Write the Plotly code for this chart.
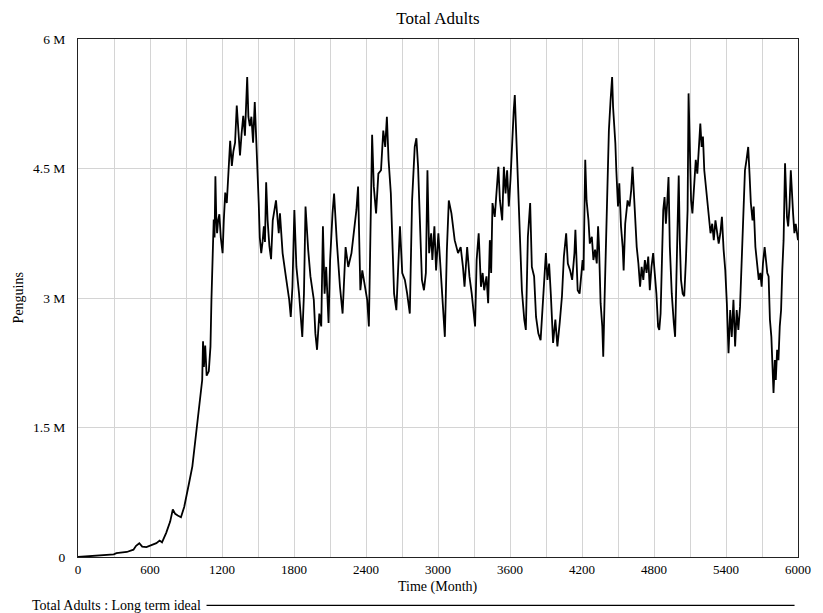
import plotly.graph_objects as go

# Time in months
time_months = [
    0, 100, 200, 298, 320, 407, 462, 484, 511, 535, 570, 600, 630, 653, 680, 700, 735, 768, 790, 810,
    831, 858, 885, 905, 926, 953, 981, 1008, 1035, 1042, 1049, 1060, 1072, 1090, 1104, 1112, 1123, 1131, 1138, 1145,
    1152, 1159, 1168, 1178, 1190, 1205, 1215, 1227, 1240, 1254, 1268, 1282, 1295, 1309, 1323, 1336, 1350, 1363, 1377, 1391,
    1400, 1410, 1420, 1432, 1445, 1459, 1473, 1486, 1495, 1500, 1506, 1515, 1527, 1538, 1549, 1558, 1568, 1580, 1595, 1609,
    1623, 1650, 1673, 1683, 1705, 1732, 1760, 1773, 1787, 1803, 1820, 1842, 1869, 1883, 1896, 1918, 1937, 1965, 1978, 1992,
    2011, 2027, 2041, 2055, 2068, 2088, 2101, 2121, 2134, 2156, 2183, 2205, 2230, 2252, 2279, 2301, 2320, 2334, 2353, 2369,
    2388, 2410, 2424, 2437, 2451, 2465, 2484, 2503,
    2525, 2544, 2560, 2574, 2588, 2607, 2620, 2634, 2653, 2670, 2683, 2702, 2724, 2743, 2765, 2784, 2806, 2820, 2834, 2847,
    2866, 2883, 2899, 2912, 2926, 2943, 2953, 2970, 2984, 3003, 3025, 3044, 3057, 3074, 3090, 3112, 3139, 3167, 3189, 3208,
    3221, 3243, 3262, 3281, 3298, 3309, 3322, 3339, 3358,
    3372, 3385, 3404, 3418, 3432, 3443, 3454, 3473, 3487, 3503, 3516, 3535, 3549, 3563, 3576, 3590, 3604, 3617, 3631, 3640,
    3650, 3667, 3680, 3699, 3719, 3732, 3749, 3768, 3782, 3801, 3817, 3836, 3855, 3872, 3885, 3899, 3912, 3926, 3940, 3959,
    3978, 3995, 4014, 4033, 4049, 4068, 4082, 4101, 4118, 4137, 4145, 4164, 4180, 4205,
    4213, 4227, 4238, 4254, 4265, 4282, 4295, 4309, 4323, 4334, 4342, 4355, 4369, 4377, 4388, 4396, 4405, 4416, 4424, 4438,
    4451, 4459, 4470, 4478, 4486, 4500, 4511, 4525, 4539, 4547, 4560, 4580, 4596, 4610, 4621, 4632, 4643, 4656, 4670, 4684,
    4697, 4711, 4724, 4738, 4752, 4765, 4779, 4793, 4806, 4820, 4834, 4844, 4855, 4867, 4877, 4888, 4899, 4910, 4921, 4932,
    4948, 4965, 4976, 4987, 4998, 5006, 5015, 5025, 5039, 5052, 5066, 5080, 5088,
    5098, 5109, 5120, 5134, 5148, 5161, 5175, 5186, 5197, 5208, 5219, 5230, 5244, 5257, 5271, 5285, 5298, 5312, 5325, 5339,
    5353, 5366, 5380, 5394, 5407, 5421, 5435, 5448, 5462, 5476, 5489, 5503, 5517, 5530, 5544, 5558, 5571, 5585, 5596, 5607,
    5621, 5631, 5645, 5659, 5673, 5686, 5697, 5708, 5722, 5733, 5744, 5755, 5766, 5778, 5788, 5796, 5807, 5815, 5826, 5837,
    5848, 5859, 5869, 5880, 5892, 5900, 5908, 5918, 5929, 5940, 5948, 5959, 5970, 5981, 6000,
]

# Total adults, in millions of penguins
adults_millions = [
    0.0, 0.008, 0.018, 0.03, 0.045, 0.058, 0.085, 0.13, 0.16, 0.12, 0.115, 0.13, 0.15, 0.16, 0.19, 0.17, 0.28, 0.41, 0.55, 0.50,
    0.48, 0.46, 0.58, 0.70, 0.86, 1.05, 1.40, 1.71, 2.05, 2.50, 2.20, 2.45, 2.10, 2.15, 2.44, 2.98, 3.68, 3.91, 3.70, 4.41,
    3.95, 3.75, 3.90, 3.97, 3.70, 3.52, 3.90, 4.22, 4.10, 4.45, 4.82, 4.53, 4.70, 4.80, 5.23, 4.95, 4.65, 4.90, 5.11, 4.88,
    5.20, 5.56, 5.10, 4.99, 5.10, 4.80, 5.27, 4.84, 4.61, 4.30, 4.10, 3.70, 3.52, 3.65, 3.83, 3.65, 4.34, 3.90, 3.60, 3.45,
    3.90, 4.13, 3.75, 3.98, 3.52, 3.25, 2.98, 2.78, 3.13, 4.02, 3.36, 3.05, 2.55, 3.05, 4.06, 3.56, 3.25, 2.98, 2.59, 2.40,
    2.82, 2.67, 3.83, 3.05, 3.36, 2.71, 3.44, 3.98, 4.21, 3.67, 3.13, 2.82, 3.59, 3.36, 3.52, 3.79, 4.02, 4.29, 3.09, 3.32,
    3.17, 2.98, 2.67, 3.79, 4.89, 4.29, 3.98, 4.44,
    4.48, 4.94, 4.75, 5.10, 4.60, 4.21, 3.63, 3.05, 2.86, 3.36, 3.83, 3.29, 3.21, 3.05, 2.82, 4.13, 4.75, 4.85, 4.52, 3.98,
    3.21, 3.09, 3.29, 4.48, 3.52, 3.75, 3.44, 3.83, 3.32, 3.75, 3.25, 2.90, 2.55, 3.56, 4.13, 3.98, 3.67, 3.52, 3.59, 3.36,
    3.13, 3.59, 3.25, 3.05, 2.82, 2.67, 3.44, 3.75, 3.13,
    3.29, 3.09, 3.25, 2.94, 3.67, 3.29, 4.10, 3.94, 4.25, 4.52, 4.13, 3.90, 4.52, 4.21, 4.48, 4.06, 4.37, 4.83, 5.17, 5.35,
    4.98, 4.37, 3.83, 3.09, 2.75, 2.63, 3.71, 4.10, 3.36, 3.25, 2.78, 2.59, 2.51, 2.90, 3.09, 3.52, 3.21, 3.40, 3.05, 2.48,
    2.75, 2.44, 2.71, 3.02, 3.48, 3.75, 3.40, 3.32, 3.21, 3.52, 3.79, 3.09, 3.05, 3.44,
    3.32, 4.60, 4.13, 3.90, 3.63, 3.71, 3.44, 3.56, 3.40, 3.83, 3.59, 2.94, 2.67, 2.32, 2.98, 3.44, 4.06, 4.75, 4.94, 5.29,
    5.56, 5.21, 4.98, 4.79, 4.48, 4.06, 4.33, 3.83, 3.59, 3.32, 3.86, 4.13, 4.06, 4.25, 4.52, 4.17, 3.90, 3.59, 3.40, 3.13,
    3.36, 3.21, 3.44, 3.29, 3.48, 3.09, 3.36, 3.52, 3.29, 3.05, 2.67, 2.63, 2.82, 3.52, 4.02, 4.17, 3.86, 4.10, 4.40, 3.59,
    3.05, 2.71, 2.55, 3.25, 3.90, 4.42, 3.67, 3.21, 3.05, 3.02, 3.44, 4.02, 5.37,
    4.67, 4.13, 3.98, 4.29, 4.60, 4.44, 4.71, 5.02, 4.75, 4.87, 4.48, 4.33, 4.13, 3.98, 3.75, 3.86, 3.67, 3.90, 3.75, 3.63,
    3.75, 3.94, 3.56, 3.32, 2.94, 2.36, 2.86, 2.55, 2.98, 2.44, 2.86, 2.63, 2.90, 3.44, 3.90, 4.48, 4.60, 4.75, 4.44, 4.10,
    3.90, 4.06, 3.59, 3.40, 3.21, 3.29, 3.13, 3.40, 3.59, 3.44, 3.29, 3.25, 2.75, 2.55, 2.09, 1.90, 2.28, 2.05, 2.40, 2.28,
    2.67, 2.86, 3.32, 3.67, 4.56, 4.29, 3.94, 3.83, 4.06, 4.48, 4.21, 3.98, 3.75, 3.86, 3.67,
]

y_tick_vals = [0, 1.5, 3, 4.5, 6]
y_tick_text = ["0", "1.5 M", "3 M", "4.5 M", "6 M"]
x_tick_vals = [0, 600, 1200, 1800, 2400, 3000, 3600, 4200, 4800, 5400, 6000]

series_name = "Total Adults : Long term ideal"

FONT = "Liberation Serif, Times New Roman, serif"
GRID = "#d4d4d4"

fig = go.Figure()
fig.add_trace(go.Scatter(
    x=time_months, y=adults_millions, mode="lines", name=series_name,
    line=dict(color="black", width=1.8), showlegend=False,
))

fig.update_layout(
    width=823, height=613,
    margin=dict(l=77.5, r=14.5, t=38.5, b=55.5),
    paper_bgcolor="white", plot_bgcolor="white",
    font=dict(family=FONT, size=13.5, color="black"),
    title=dict(text="Total Adults", x=0.5, xref="paper", xanchor="center",
               y=1 - 18 / 613, yanchor="middle", font=dict(family=FONT, size=17, color="black")),
    xaxis=dict(
        range=[0, 6000], tickvals=x_tick_vals, ticks="", showgrid=True, gridcolor=GRID, gridwidth=1,
        minor=dict(dtick=300, tick0=0, showgrid=True, gridcolor=GRID, gridwidth=1),
        showline=True, linecolor="#222", linewidth=1, mirror=True, zeroline=False,
        tickfont=dict(family=FONT, size=13), ticklabelstandoff=0,
    ),
    yaxis=dict(
        range=[0, 6], tickvals=y_tick_vals, ticktext=y_tick_text, ticks="", showgrid=True,
        gridcolor=GRID, gridwidth=1, showline=True, linecolor="#222", linewidth=1, mirror=True,
        zeroline=False, tickfont=dict(family=FONT, size=13.5), ticklabelstandoff=9,
    ),
    annotations=[
        dict(text="Penguins", xref="paper", yref="paper", x=-0.0828, y=0.5, textangle=-90,
             showarrow=False, xanchor="center", yanchor="middle", font=dict(family=FONT, size=14)),
        dict(text="Time (Month)", xref="paper", yref="paper", x=0.5, y=-0.057,
             showarrow=False, xanchor="center", yanchor="middle", font=dict(family=FONT, size=14)),
        dict(text=series_name, xref="paper", yref="paper", x=-0.0663, y=-0.0934,
             showarrow=False, xanchor="left", yanchor="middle", font=dict(family=FONT, size=14)),
    ],
    shapes=[
        dict(type="line", xref="paper", yref="paper", x0=0.1785, x1=0.9952, y0=-0.0934, y1=-0.0934,
             line=dict(color="black", width=1.2)),
    ],
)

fig.write_html("out.html")
